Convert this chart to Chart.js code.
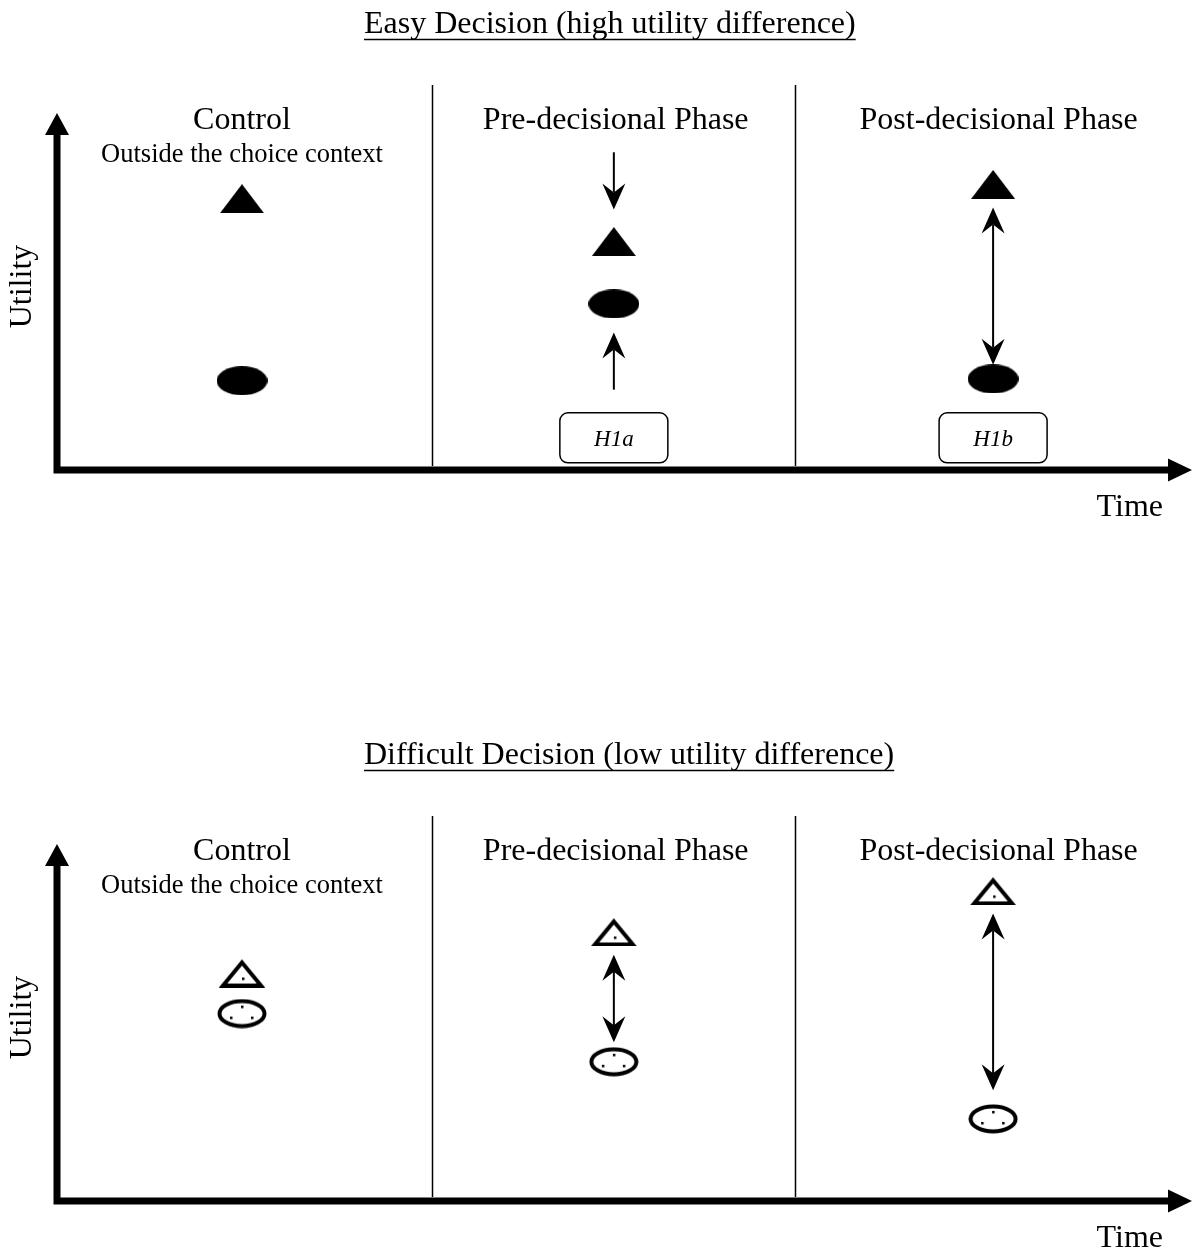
<!DOCTYPE html>
<html>
<head>
<meta charset="utf-8">
<script src="https://cdn.jsdelivr.net/npm/chart.js@4.4.0/dist/chart.umd.min.js"></script>
<style>
  body { margin: 0; background: #fff; width: 1193px; height: 1251px; overflow: hidden; position: relative; }
  canvas { position: absolute; left: 0; }
</style>
</head>
<body>
<canvas id="easyChart" width="1193" height="731" style="top:0"></canvas>
<canvas id="hardChart" width="1193" height="520" style="top:731px"></canvas>
<script>
// utility of the two options per phase - easy vs difficult decision

const phases = ['Control', 'Pre-decisional Phase', 'Post-decisional Phase']
const phaseNote = 'Outside the choice context'
const phaseX = [0.5, 1.505, 2.53]
const labelX = [0.5, 1.51, 2.545]
const dividerX = [1.014, 1.995]

const easyTitle = 'Easy Decision (high utility difference)'
const easyTriangle = [7.6, 6.4, 8.0]
const easyEllipse = [2.5, 4.65, 2.55]
const easyArrowPhase = [1, 1, 2]
const easyArrowFrom = [8.9, 2.25, 7.35]
const easyArrowTo = [7.3, 3.85, 2.95]
const easyArrowBoth = [false, false, true]
const easyBoxPhase = [1, 2]
const easyBoxLabel = ['H1a', 'H1b']

const hardTitle = 'Difficult Decision (low utility difference)'
const hardTriangle = [6.4, 7.55, 8.7]
const hardEllipse = [5.25, 3.9, 2.3]
const hardArrowPhase = [1, 2]
const hardArrowFrom = [6.9, 8.05]
const hardArrowTo = [4.45, 3.1]
const hardArrowBoth = [true, true]

const boxY = 0.9
const serif = '"Liberation Serif", "Times New Roman", serif'

const sprite = (w, h, draw) => {
    const c = document.createElement('canvas')
    c.width = w
    c.height = h
    draw(c.getContext('2d'), w, h)
    return c
}

const solidTriangle = sprite(44, 29, (ctx, w, h) => {
    ctx.beginPath()
    ctx.moveTo(w / 2, 0)
    ctx.lineTo(w, h)
    ctx.lineTo(0, h)
    ctx.closePath()
    ctx.fill()
})

const solidEllipse = sprite(51, 29, (ctx, w, h) => {
    ctx.beginPath()
    ctx.ellipse(w / 2, h / 2, w / 2, h / 2, 0, 0, Math.PI * 2)
    ctx.fill()
})

const hollowTriangle = sprite(46, 30, (ctx, w, h) => {
    ctx.lineWidth = 4
    ctx.lineJoin = 'miter'
    ctx.beginPath()
    ctx.moveTo(w / 2, 5)
    ctx.lineTo(w - 4, h - 2)
    ctx.lineTo(4, h - 2)
    ctx.closePath()
    ctx.stroke()
    ctx.fillRect(w / 2, h - 10, 2.5, 2.5)
})

const hollowEllipse = sprite(50, 30, (ctx, w, h) => {
    ctx.lineWidth = 4
    ctx.beginPath()
    ctx.ellipse(w / 2, h / 2, w / 2 - 2.5, h / 2 - 2.5, 0, 0, Math.PI * 2)
    ctx.stroke()
    ctx.fillRect(w / 2 - 1, h / 2 - 8, 2.5, 2.5)
    ctx.fillRect(w / 2 - 12, h / 2 + 3, 2.5, 2.5)
    ctx.fillRect(w / 2 + 9, h / 2 + 3, 2.5, 2.5)
})

const drawArrow = (ctx, x, y1, y2, both) => {
    const head = (tipY, dir) => {
        ctx.beginPath()
        ctx.moveTo(x, tipY)
        ctx.lineTo(x - 11.5, tipY - dir * 26)
        ctx.lineTo(x, tipY - dir * 17)
        ctx.lineTo(x + 11.5, tipY - dir * 26)
        ctx.closePath()
        ctx.fill()
    }
    const dir = Math.sign(y2 - y1)
    ctx.lineWidth = 2
    ctx.beginPath()
    ctx.moveTo(x, both ? y1 + dir * 17 : y1)
    ctx.lineTo(x, y2 - dir * 17)
    ctx.stroke()
    head(y2, dir)
    if (both) head(y1, -dir)
}

const diagramPlugin = {
    id: 'diagram',
    afterDraw(chart, args, opts) {
        const { ctx, chartArea: area, scales: { x, y } } = chart
        ctx.save()
        ctx.fillStyle = '#000'
        ctx.strokeStyle = '#000'

        // dividers between phases
        ctx.lineWidth = 1.5
        dividerX.forEach(v => {
            const px = Math.round(x.getPixelForValue(v)) + 0.5
            ctx.beginPath()
            ctx.moveTo(px, area.top - 28)
            ctx.lineTo(px, area.bottom - 4)
            ctx.stroke()
        })

        // axes with arrow heads
        ctx.lineWidth = 7
        ctx.beginPath()
        ctx.moveTo(area.left, area.bottom + 3.5)
        ctx.lineTo(area.left, area.top + 20)
        ctx.moveTo(area.left - 3.5, area.bottom)
        ctx.lineTo(area.right + 3, area.bottom)
        ctx.stroke()
        ctx.beginPath()
        ctx.moveTo(area.left, area.top)
        ctx.lineTo(area.left - 12, area.top + 22)
        ctx.lineTo(area.left + 12, area.top + 22)
        ctx.closePath()
        ctx.moveTo(area.right + 25, area.bottom)
        ctx.lineTo(area.right + 1, area.bottom - 11.5)
        ctx.lineTo(area.right + 1, area.bottom + 11.5)
        ctx.closePath()
        ctx.fill()

        // panel title, underlined
        ctx.font = '32px ' + serif
        ctx.textAlign = 'left'
        ctx.textBaseline = 'alphabetic'
        ctx.fillText(opts.title, 364, area.top - 80)
        const tw = ctx.measureText(opts.title).width
        ctx.lineWidth = 1.5
        ctx.beginPath()
        ctx.moveTo(364, area.top - 73.5)
        ctx.lineTo(364 + tw, area.top - 73.5)
        ctx.stroke()

        // phase headings
        ctx.textAlign = 'center'
        ctx.textBaseline = 'middle'
        phases.forEach((p, i) => ctx.fillText(p, x.getPixelForValue(labelX[i]), area.top + 8))
        ctx.font = '26.5px ' + serif
        ctx.fillText(phaseNote, x.getPixelForValue(labelX[0]), area.top + 42)

        // axis titles
        ctx.font = '32px ' + serif
        ctx.textAlign = 'right'
        ctx.fillText('Time', area.right - 4, area.bottom + 38)
        ctx.save()
        ctx.translate(23, (area.top + area.bottom) / 2 - 5)
        ctx.rotate(-Math.PI / 2)
        ctx.textAlign = 'center'
        ctx.fillText('Utility', 0, 0)
        ctx.restore()

        // arrows showing the expected shift
        opts.arrowPhase.forEach((p, i) => {
            drawArrow(ctx, x.getPixelForValue(phaseX[p]), y.getPixelForValue(opts.arrowFrom[i]),
                y.getPixelForValue(opts.arrowTo[i]), opts.arrowBoth[i])
        })

        // hypothesis boxes
        ctx.font = 'italic 23px ' + serif
        ctx.textAlign = 'center'
        ctx.lineWidth = 1.5
        opts.boxPhase.forEach((p, i) => {
            const cx = x.getPixelForValue(phaseX[p])
            const cy = y.getPixelForValue(boxY)
            ctx.beginPath()
            ctx.roundRect(cx - 54, cy - 25, 108, 50, 8)
            ctx.stroke()
            ctx.fillText(opts.boxLabel[i], cx, cy + 2)
        })
        ctx.restore()
    }
}

const makeChart = (id, triangleVals, ellipseVals, triStyle, ellStyle, extra) => {
    const canvas = document.getElementById(id)
    const data = {
        datasets: [
            {
                label: 'Option A',
                data: triangleVals.map((v, i) => ({ x: phaseX[i], y: v })),
                pointStyle: triStyle,
                pointRadius: 20,
            },
            {
                label: 'Option B',
                data: ellipseVals.map((v, i) => ({ x: phaseX[i], y: v })),
                pointStyle: ellStyle,
                pointRadius: 20,
            },
        ]
    }
    return new Chart(canvas, {
        type: 'scatter',
        data: data,
        options: {
            responsive: false,
            animation: false,
            devicePixelRatio: 1,
            layout: { padding: { left: 57, right: 26, top: 113, bottom: canvas.height - 470 } },
            scales: {
                x: { type: 'linear', min: 0, max: 3, display: false },
                y: { type: 'linear', min: 0, max: 10, display: false },
            },
            plugins: {
                legend: { display: false },
                tooltip: { enabled: false },
                diagram: extra,
            },
        },
        plugins: [diagramPlugin],
    })
}

makeChart('easyChart', easyTriangle, easyEllipse, solidTriangle, solidEllipse, {
    title: easyTitle,
    arrowPhase: easyArrowPhase,
    arrowFrom: easyArrowFrom,
    arrowTo: easyArrowTo,
    arrowBoth: easyArrowBoth,
    boxPhase: easyBoxPhase,
    boxLabel: easyBoxLabel,
})

makeChart('hardChart', hardTriangle, hardEllipse, hollowTriangle, hollowEllipse, {
    title: hardTitle,
    arrowPhase: hardArrowPhase,
    arrowFrom: hardArrowFrom,
    arrowTo: hardArrowTo,
    arrowBoth: hardArrowBoth,
    boxPhase: [],
    boxLabel: [],
})
</script>
</body>
</html>
